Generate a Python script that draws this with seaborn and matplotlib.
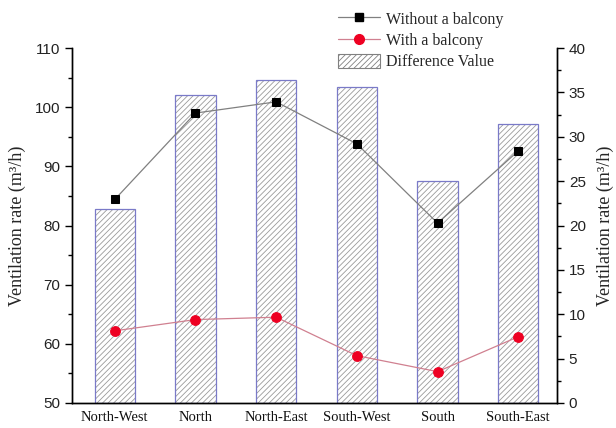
import numpy as np
import matplotlib
matplotlib.use("Agg")
import matplotlib.pyplot as plt
import seaborn as sns
from matplotlib.lines import Line2D
from matplotlib.patches import Patch
from matplotlib.ticker import MultipleLocator
from matplotlib.colors import to_rgba

categories = ["North-West", "North", "North-East", "South-West", "South", "South-East"]
without_balcony = [84.4, 99.0, 100.9, 93.8, 80.4, 92.6]
with_balcony = [62.2, 64.1, 64.5, 58.0, 55.3, 61.2]
difference = [21.9, 34.7, 36.4, 35.6, 25.0, 31.4]

sns.set_theme(style="white")
plt.rcParams["font.family"] = ["Liberation Serif", "DejaVu Serif"]
plt.rcParams["hatch.linewidth"] = 0.6

serif = "Liberation Serif"
sans = "Liberation Sans"
hatch_grey = "#9a9a9a"
bar_edge = "#7a7ac8"

fig = plt.figure(figsize=(6.16, 4.28), dpi=100)
ax = fig.add_axes([72/616, 25/428, (557-72)/616, (403-48)/428])
ax2 = ax.twinx()
ax.set_zorder(ax2.get_zorder() + 1)
ax.patch.set_visible(False)

idx = np.arange(len(categories))

# bars (right axis): hatched fill, then outline on top
sns.barplot(x=idx, y=difference, ax=ax2, color="white", edgecolor=hatch_grey,
            hatch="//////", linewidth=0, width=0.5, native_scale=True)
for p in ax2.patches:
    p._hatch_color = to_rgba(hatch_grey)
n_hatched = len(ax2.patches)
sns.barplot(x=idx, y=difference, ax=ax2, color="white", width=0.5,
            native_scale=True)
for p in ax2.patches[n_hatched:]:
    p.set_facecolor("none")
    p.set_edgecolor(bar_edge)
    p.set_linewidth(0.9)
    p.set_hatch(None)

# lines (left axis)
sns.lineplot(x=idx, y=without_balcony, ax=ax, color="#808080", linewidth=0.9,
             marker="s", markersize=6, markerfacecolor="black",
             markeredgecolor="black", sort=False)
sns.lineplot(x=idx, y=with_balcony, ax=ax, color="#d08090", linewidth=0.9,
             marker="o", markersize=7, markerfacecolor="#ee0022",
             markeredgecolor="#ee0022", sort=False)

ax.set_xlim(-0.53, 5.48)
ax.set_ylim(50, 110)
ax2.set_ylim(0, 40)
ax.set_xticks(idx)
ax.set_xticklabels(categories, fontfamily=serif, fontsize=10.5)
ax.yaxis.set_major_locator(MultipleLocator(10))
ax.yaxis.set_minor_locator(MultipleLocator(5))
ax2.yaxis.set_major_locator(MultipleLocator(5))
ax2.yaxis.set_minor_locator(MultipleLocator(2.5))
ax2.set_xlabel("")
ax.set_xlabel("")

for a in (ax, ax2):
    for s in a.spines.values():
        s.set_color("black")
        s.set_linewidth(1.0)
    a.spines["top"].set_visible(False)
    a.grid(False)

ax.tick_params(axis="y", which="major", direction="out", length=5, width=1,
               labelsize=11, color="black", left=True)
ax.tick_params(axis="y", which="minor", direction="out", length=3, width=1,
               color="black", left=True)
ax.tick_params(axis="x", length=0, pad=6)
ax2.tick_params(axis="y", which="major", direction="out", length=5, width=1,
                labelsize=11, color="black", right=True)
ax2.tick_params(axis="y", which="minor", direction="out", length=3, width=1,
                color="black", right=True)
for lab in ax.get_yticklabels() + ax2.get_yticklabels():
    lab.set_fontfamily(sans)
    lab.set_color("#222222")
for lab in ax.get_xticklabels():
    lab.set_color("#111111")

ax.set_ylabel("Ventilation rate (m³/h)", fontfamily=serif, fontsize=13, labelpad=6)
ax2.set_ylabel("Ventilation rate (m³/h)", fontfamily=serif, fontsize=13, labelpad=8)

handles = [
    Line2D([0], [0], color="#808080", linewidth=0.9, marker="s", markersize=6,
           markerfacecolor="black", markeredgecolor="black"),
    Line2D([0], [0], color="#d08090", linewidth=0.9, marker="o", markersize=7,
           markerfacecolor="#ee0022", markeredgecolor="#ee0022"),
    Patch(facecolor="white", edgecolor="#808080", hatch="//////", linewidth=0.8),
]
labels = ["Without a balcony", "With a balcony", "Difference Value"]
fig.legend(handles, labels, loc="upper left", bbox_to_anchor=(330/616, 1 - 3/428),
           frameon=False, prop={"family": serif, "size": 11.5}, borderpad=0,
           handlelength=2.6, handletextpad=0.4, labelspacing=0.3,
           handleheight=1.0)

fig.savefig("out.png", dpi=100)
